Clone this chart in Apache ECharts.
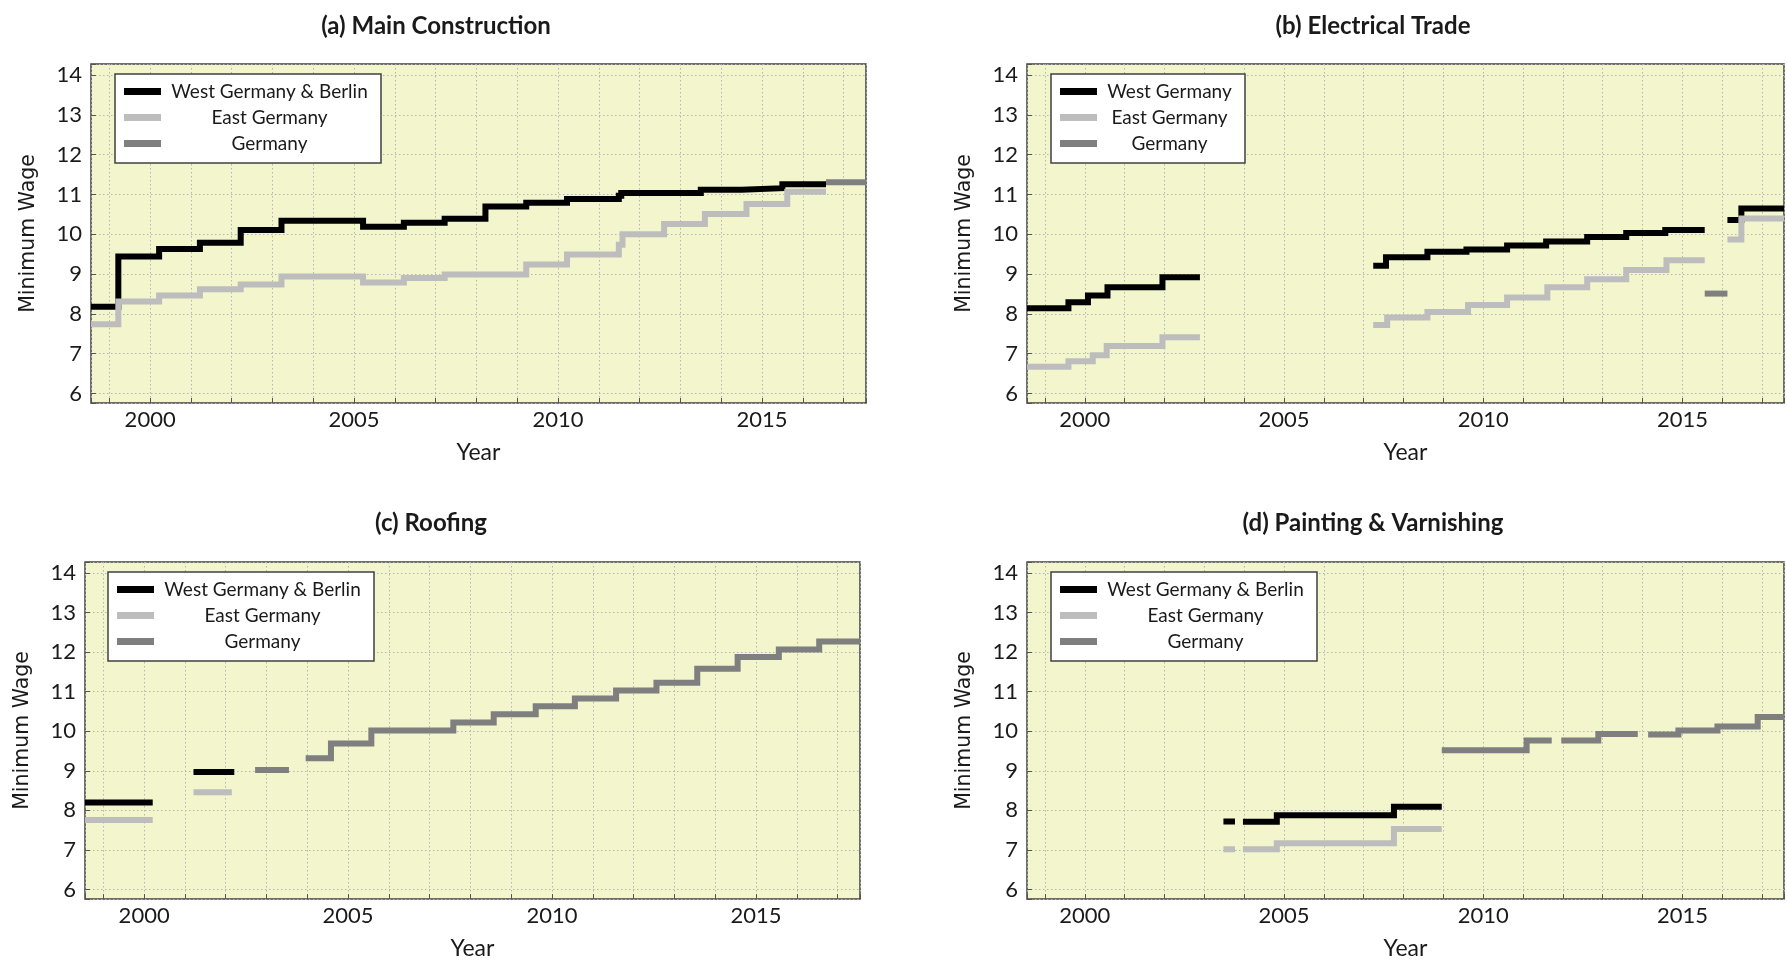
<!DOCTYPE html>
<html>
<head>
<meta charset="utf-8">
<title>Minimum Wage</title>
<script src="https://cdn.jsdelivr.net/npm/echarts@6/dist/echarts.min.js"></script>
<style>
  body { margin: 0; background: #fff; }
  #main { width: 1787px; height: 961px; }
</style>
</head>
<body>
<div id="main"></div>
<script>
// step data: [year the value starts, value]; null = the line stops there
// (a) Main Construction
const aWest = [[1998.55, 8.18], [1999.22, 9.44], [2000.22, 9.63], [2001.22, 9.79], [2002.22, 10.11], [2003.22, 10.34], [2005.22, 10.19], [2006.22, 10.29], [2007.22, 10.39], [2008.22, 10.70], [2009.22, 10.79], [2010.22, 10.89], [2011.49, 10.97], [2011.55, 11.04], [2013.5, 11.12], [2014.5, 11.16], [2015.5, 11.26], [2016.57, null]];
const aEast = [[1998.55, 7.74], [1999.22, 8.31], [2000.22, 8.46], [2001.22, 8.62], [2002.22, 8.74], [2003.22, 8.94], [2005.22, 8.79], [2006.22, 8.90], [2007.22, 8.99], [2009.22, 9.24], [2010.22, 9.49], [2011.49, 9.74], [2011.58, 10.0], [2012.6, 10.26], [2013.6, 10.51], [2014.62, 10.76], [2015.62, 11.07], [2016.57, null]];
const aGermany = [[2016.57, 11.31], [2017.55, null]];

// (b) Electrical Trade
const bWest = [[1998.55, 8.14], [1999.59, 8.29], [2000.08, 8.46], [2000.57, 8.67], [2001.95, 8.92], [2002.89, null], [2007.24, 9.21], [2007.56, 9.42], [2008.6, 9.56], [2009.58, 9.62], [2010.6, 9.72], [2011.58, 9.82], [2012.61, 9.93], [2013.59, 10.03], [2014.57, 10.11], [2015.56, null], [2016.13, 10.36], [2016.48, 10.65], [2017.55, null]];
const bEast = [[1998.55, 6.67], [1999.59, 6.81], [2000.2, 6.96], [2000.55, 7.19], [2001.95, 7.41], [2002.89, null], [2007.24, 7.72], [2007.59, 7.91], [2008.6, 8.05], [2009.62, 8.22], [2010.6, 8.41], [2011.61, 8.67], [2012.61, 8.87], [2013.59, 9.10], [2014.6, 9.35], [2015.56, null], [2016.13, 9.87], [2016.48, 10.40], [2017.55, null]];
const bGermany = [[2015.56, 8.51], [2016.13, null]];

// (c) Roofing
const cWest = [[1998.55, 8.20], [2000.21, null], [2001.21, 8.97], [2002.21, null]];
const cEast = [[1998.55, 7.76], [2000.21, null], [2001.21, 8.46], [2002.15, null]];
const cGermany = [[2002.72, 9.02], [2003.55, null], [2003.96, 9.32], [2004.58, 9.69], [2005.57, 10.02], [2007.58, 10.22], [2008.57, 10.43], [2009.6, 10.63], [2010.56, 10.83], [2011.57, 11.03], [2012.56, 11.23], [2013.56, 11.58], [2014.55, 11.88], [2015.56, 12.07], [2016.55, 12.27], [2017.55, null]];

// (d) Painting & Varnishing
const dWest = [[2003.48, 7.72], [2003.77, null], [2003.97, 7.71], [2004.82, 7.88], [2007.76, 8.09], [2008.96, null]];
const dEast = [[2003.48, 7.02], [2003.77, null], [2003.97, 7.02], [2004.82, 7.17], [2007.76, 7.53], [2008.96, null]];
const dGermany = [[2008.96, 9.52], [2011.09, 9.77], [2011.72, null], [2011.96, 9.77], [2012.89, 9.93], [2013.88, null], [2014.14, 9.92], [2014.9, 10.02], [2015.88, 10.12], [2016.89, 10.36], [2017.55, null]];

const titles = ['(a) Main Construction', '(b) Electrical Trade', '(c) Roofing', '(d) Painting & Varnishing'];
const westNames = ['West Germany & Berlin', 'West Germany', 'West Germany & Berlin', 'West Germany & Berlin'];

const FONT = 'Lato';
const colors = { west: '#000000', east: '#bdbdbd', germany: '#7f7f7f' };

// turn the step list into points for a step:'end' line, closing each run
function steps(pts) {
  const out = [];
  let prev = null;
  pts.forEach(function (p) {
    if (p[1] === null) {
      if (prev !== null) out.push([p[0], prev]);
      out.push([p[0], null]);
      prev = null;
    } else {
      out.push([p[0], p[1]]);
      prev = p[1];
    }
  });
  return out;
}

const panels = [
  { west: aWest, east: aEast, germany: aGermany, grid: { left: 91, top: 64, width: 775, height: 339 }, titleX: 431, titleY: 9, legend: [115, 74], textW: 207 },
  { west: bWest, east: bEast, germany: bGermany, grid: { left: 1027, top: 64, width: 775, height: 339 }, titleX: 1368, titleY: 9, legend: [1051, 74], textW: 135 },
  { west: cWest, east: cEast, germany: cGermany, grid: { left: 85, top: 562, width: 775, height: 338 }, titleX: 426, titleY: 506, legend: [108, 572], textW: 207 },
  { west: dWest, east: dEast, germany: dGermany, grid: { left: 1027, top: 562, width: 775, height: 338 }, titleX: 1368, titleY: 506, legend: [1051, 572], textW: 207 }
];

const isInt = v => Math.abs(v - Math.round(v)) < 1e-6;
const gridLine = { show: true, lineStyle: { type: [1.5, 2.5], color: '#b4b4b4', width: 1 } };

const option = {
  animation: false,
  backgroundColor: '#ffffff',
  title: [],
  legend: [],
  grid: [],
  xAxis: [],
  yAxis: [],
  series: []
};

panels.forEach(function (p, i) {
  option.grid.push(Object.assign({
    show: true, backgroundColor: '#f3f5cd', borderColor: '#404040', borderWidth: 1.5
  }, p.grid));

  option.title.push({
    text: titles[i], left: p.titleX, top: p.titleY, textAlign: 'center',
    textStyle: { fontFamily: FONT, fontWeight: 'bold', fontSize: 24, color: '#1a1a1a' }
  });

  option.xAxis.push({
    type: 'value', gridIndex: i, min: 1998.55, max: 2017.55, splitNumber: 19,
    name: 'Year', nameLocation: 'middle', nameGap: 38,
    nameTextStyle: { fontFamily: FONT, fontSize: 23, color: '#1a1a1a' },
    axisLine: { show: false },
    axisTick: { show: true, inside: true, length: 5, lineStyle: { color: '#555' } },
    axisLabel: {
      margin: 6, fontFamily: FONT, fontSize: 22, color: '#1a1a1a',
      formatter: v => (isInt(v) && Math.round(v) % 5 === 0) ? String(Math.round(v)) : ''
    },
    splitLine: gridLine
  });

  option.yAxis.push({
    type: 'value', gridIndex: i, min: 5.76, max: 14.28, splitNumber: 8,
    name: 'Minimum Wage', nameLocation: 'middle', nameGap: 52,
    nameTextStyle: { fontFamily: 'DejaVu Sans', fontSize: 20.5, color: '#1a1a1a' },
    axisLine: { show: false },
    axisTick: { show: true, inside: true, length: 5, lineStyle: { color: '#555' } },
    axisLabel: {
      margin: 9, fontFamily: FONT, fontSize: 22, color: '#1a1a1a',
      formatter: v => isInt(v) ? String(Math.round(v)) : ''
    },
    splitLine: gridLine
  });

  const names = [westNames[i], 'East Germany', 'Germany'];
  option.legend.push({
    orient: 'vertical', left: p.legend[0], top: p.legend[1],
    data: names, selectedMode: false, icon: 'rect',
    itemWidth: 37, itemHeight: 7, itemGap: 7,
    padding: [8, 8, 10, 9],
    backgroundColor: '#ffffff', borderColor: '#404040', borderWidth: 1.5, borderRadius: 0,
    formatter: name => '{t|' + name + '}',
    textStyle: {
      rich: { t: { width: p.textW, align: 'center', fontFamily: FONT, fontSize: 19, lineHeight: 20, color: '#1a1a1a' } }
    }
  });

  [[names[0], p.west, colors.west], [names[1], p.east, colors.east], [names[2], p.germany, colors.germany]]
    .forEach(function (s) {
      option.series.push({
        name: s[0], type: 'line', step: 'end', xAxisIndex: i, yAxisIndex: i,
        data: steps(s[1]), showSymbol: false, symbol: 'none', connectNulls: false,
        color: s[2],
        itemStyle: { color: s[2] },
        lineStyle: { color: s[2], width: 6, cap: 'butt', join: 'miter' }
      });
    });
});

const myChart = echarts.init(document.getElementById('main'), null, { renderer: 'canvas' });
myChart.setOption(option);
</script>
</body>
</html>
